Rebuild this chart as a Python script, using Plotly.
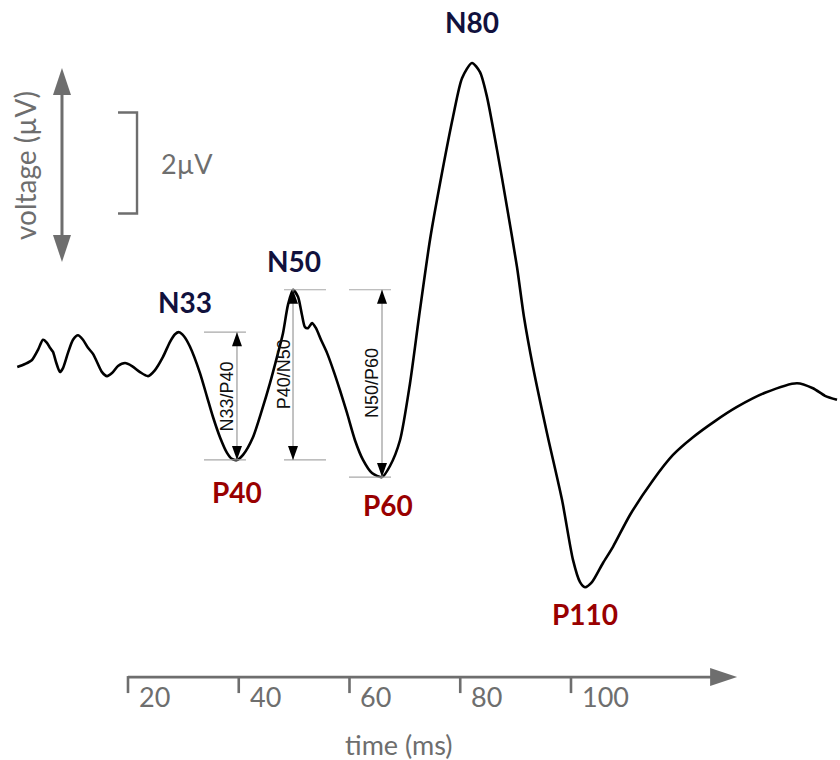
import plotly.graph_objects as go

# ---------------- data ----------------
time_ms = [0.0, 1.4, 2.66, 3.75, 4.65, 5.37, 5.91, 6.46, 7.0, 7.72,
           8.26, 9.16, 10.07, 10.97, 11.87, 12.78, 13.68, 14.4, 15.31, 16.21,
           17.11, 18.19, 19.46, 20.72, 22.17, 23.61, 24.88, 26.32, 27.59, 28.49,
           29.21, 30.11, 31.2, 33.0, 34.27, 35.35, 36.61, 37.88, 38.78, 39.68,
           40.77, 42.57, 44.2, 45.64, 46.91, 47.99, 48.89, 49.8, 50.7, 51.42,
           51.96, 52.51, 53.23, 53.95, 54.85, 55.94, 57.2, 58.28, 59.55, 60.99,
           62.44, 64.06, 65.87, 67.31, 69.12, 70.93, 72.55, 74.54, 76.7, 78.69,
           80.32, 82.12, 83.57, 84.83, 86.64, 88.44, 90.25, 91.51, 93.14, 95.67,
           98.38, 100.36, 101.63, 102.53, 103.79, 105.78, 107.58, 110.65, 114.81, 118.42,
           122.03, 126.01, 129.98, 135.03, 140.81, 143.7, 145.87, 148.04]
voltage_uv = [0.04, -0.02, -0.10, -0.30, -0.50, -0.44, -0.34, -0.26, -0.06, 0.14,
              0.06, -0.24, -0.50, -0.59, -0.50, -0.34, -0.22, -0.06, 0.14, 0.22,
              0.16, 0.02, -0.04, 0.02, 0.14, 0.22, 0.10, -0.16, -0.46, -0.61,
              -0.65, -0.57, -0.36, 0.16, 0.63, 1.03, 1.43, 1.74, 1.86, 1.88,
              1.78, 1.43, 0.89, 0.36, -0.16, -0.63, -1.19, -1.49, -1.35, -0.99,
              -0.75, -0.73, -0.83, -0.73, -0.50, -0.24, 0.14, 0.50, 0.95, 1.49,
              1.88, 2.14, 2.22, 2.00, 1.49, 0.36, -0.95, -2.48, -3.80, -4.91,
              -5.68, -5.98, -5.80, -5.31, -4.26, -3.13, -1.94, -0.95, 0.04, 1.35,
              2.67, 3.86, 4.30, 4.40, 4.30, 3.92, 3.60, 2.97, 2.28, 1.78,
              1.43, 1.11, 0.83, 0.55, 0.36, 0.46, 0.61, 0.69]

peak_names = ["N33", "P40", "N50", "P60", "N80", "P110"]
peak_times = [29.21, 39.68, 49.80, 65.87, 82.12, 102.53]
peak_amps = [-0.65, 1.88, -1.49, 2.22, -5.98, 4.40]

meas_names = ["N33/P40", "P40/N50", "N50/P60"]
meas_from = ["N33", "P40", "N50"]
meas_to = ["P40", "N50", "P60"]

time_ticks = [20, 40, 60, 80, 100]
time_axis_end = 130          # ms, tip of the time arrow
time_axis_level = 6.18       # µV level where the time arrow is drawn
volt_arrow_time = 8.08       # ms
volt_arrow_range = [-5.88, -2.04]
scale_bar_time = 21.63
scale_bar_range = [-5.0, -3.0]   # 2 µV
scale_label = "2µV"
x_title = "time (ms)"
y_title = "voltage (µV)"

# ---------------- styles ----------------
X_RANGE = [-3.115, 148.58]
Y_RANGE = [7.822, -7.228]   # reversed: negative up
N_COLOR = "#11113d"
P_COLOR = "#990000"
GRAY = "#6e6e6e"
LIGHT = "#a8a8a8"
GRAY_FONT = dict(family="Lato, Open Sans, sans-serif", size=27, color=GRAY)
PEAK_FONT_SIZE = 28
label_shift = {"N33": (6, 30), "P40": (0, -32), "N50": (1, 29),
               "P60": (6, -28), "N80": (0, 41), "P110": (0, -27)}
meas_span = {"N33/P40": (-33, 9), "P40/N50": (-9, 33), "N50/P60": (-33, 9)}

fig = go.Figure()
fig.add_trace(go.Scatter(x=time_ms, y=voltage_uv, mode="lines",
                         line=dict(color="black", width=2.6, shape="spline", smoothing=0.7),
                         hoverinfo="skip"))

shapes = []
annotations = []

def head(x, y, path, color):
    return dict(type="path", xref="x", yref="y", xsizemode="pixel", ysizemode="pixel",
                xanchor=x, yanchor=y, path=path, fillcolor=color, line=dict(width=0))

# peak labels
peak = {n: (t, a) for n, t, a in zip(peak_names, peak_times, peak_amps)}
for n in peak_names:
    t, a = peak[n]
    dx, dy = label_shift[n]
    annotations.append(dict(x=t, y=a, text=n, showarrow=False, xanchor="center", yanchor="middle",
                            xshift=dx, yshift=dy,
                            font=dict(family="Lato, sans-serif", size=PEAK_FONT_SIZE,
                                      weight="bold", color=N_COLOR if n.startswith("N") else P_COLOR)))

# measurement arrows
for name, a_n, b_n in zip(meas_names, meas_from, meas_to):
    xa = peak[b_n][0]
    ya, yb = peak[a_n][1], peak[b_n][1]
    top, bot = min(ya, yb), max(ya, yb)
    s0, s1 = meas_span[name]
    for lvl in (top, bot):
        shapes.append(dict(type="line", xref="x", yref="y", xsizemode="pixel", xanchor=xa,
                           x0=s0, x1=s1, y0=lvl, y1=lvl, line=dict(color=LIGHT, width=1.2)))
    shapes.append(dict(type="line", xref="x", yref="y", x0=xa, x1=xa, y0=top, y1=bot,
                       line=dict(color=LIGHT, width=1.4)))
    shapes.append(head(xa, top, "M0,0 L-5,-14 L5,-14 Z", "black"))
    shapes.append(head(xa, bot, "M0,0 L-5,14 L5,14 Z", "black"))
    annotations.append(dict(x=xa, y=(top + bot) / 2, text=name, showarrow=False, textangle=-90,
                            xanchor="center", yanchor="middle", xshift=-9.5,
                            font=dict(family="Liberation Sans, Arial, sans-serif", size=18, color="#111111")))

# time axis
shapes.append(dict(type="line", xref="x", yref="y", x0=time_ticks[0], x1=time_axis_end - 2,
                   y0=time_axis_level, y1=time_axis_level, line=dict(color=GRAY, width=2.6)))
shapes.append(head(time_axis_end, time_axis_level, "M0,0 L-27,9 L-27,-9 Z", GRAY))
for t in time_ticks:
    shapes.append(dict(type="line", xref="x", yref="y", ysizemode="pixel", yanchor=time_axis_level,
                       x0=t, x1=t, y0=1, y1=-16, line=dict(color=GRAY, width=2.6)))
    annotations.append(dict(x=t, y=time_axis_level, text=str(t), showarrow=False,
                            xanchor="left", yanchor="middle", xshift=9, yshift=-19, font=GRAY_FONT))
annotations.append(dict(x=(time_ticks[0] + time_ticks[-1]) / 2 + 9, y=time_axis_level, text=x_title,
                        showarrow=False, xanchor="center", yanchor="middle", yshift=-67,
                        font=GRAY_FONT))

# voltage arrow
shapes.append(dict(type="line", xref="x", yref="y", x0=volt_arrow_time, x1=volt_arrow_time,
                   y0=volt_arrow_range[0] + 0.3, y1=volt_arrow_range[1] - 0.3,
                   line=dict(color=GRAY, width=3)))
shapes.append(head(volt_arrow_time, volt_arrow_range[0], "M0,0 L-9,-27 L9,-27 Z", GRAY))
shapes.append(head(volt_arrow_time, volt_arrow_range[1], "M0,0 L-9,27 L9,27 Z", GRAY))
annotations.append(dict(x=volt_arrow_time, y=sum(volt_arrow_range) / 2, text=y_title, showarrow=False,
                        textangle=-90, xanchor="center", yanchor="middle", xshift=-37,
                        font=dict(family="Lato, Open Sans, sans-serif", size=28, color=GRAY)))

# scale bar
shapes.append(dict(type="path", xref="x", yref="y", xsizemode="pixel", xanchor=scale_bar_time,
                   path="M-19,%g L0,%g L0,%g L-19,%g" % (scale_bar_range[0], scale_bar_range[0],
                                                        scale_bar_range[1], scale_bar_range[1]),
                   line=dict(color=GRAY, width=2.4)))
annotations.append(dict(x=scale_bar_time, y=sum(scale_bar_range) / 2, text=scale_label, showarrow=False,
                        xanchor="left", yanchor="middle", xshift=22, font=GRAY_FONT))

fig.update_layout(
    width=840, height=760, margin=dict(l=0, r=0, t=0, b=0),
    paper_bgcolor="white", plot_bgcolor="white", showlegend=False,
    xaxis=dict(range=X_RANGE, visible=False, fixedrange=True),
    yaxis=dict(range=Y_RANGE, visible=False, fixedrange=True),
    shapes=shapes, annotations=annotations,
)
fig.write_html("out.html", config={"displayModeBar": False},
               post_script="document.body.style.margin='0';")
